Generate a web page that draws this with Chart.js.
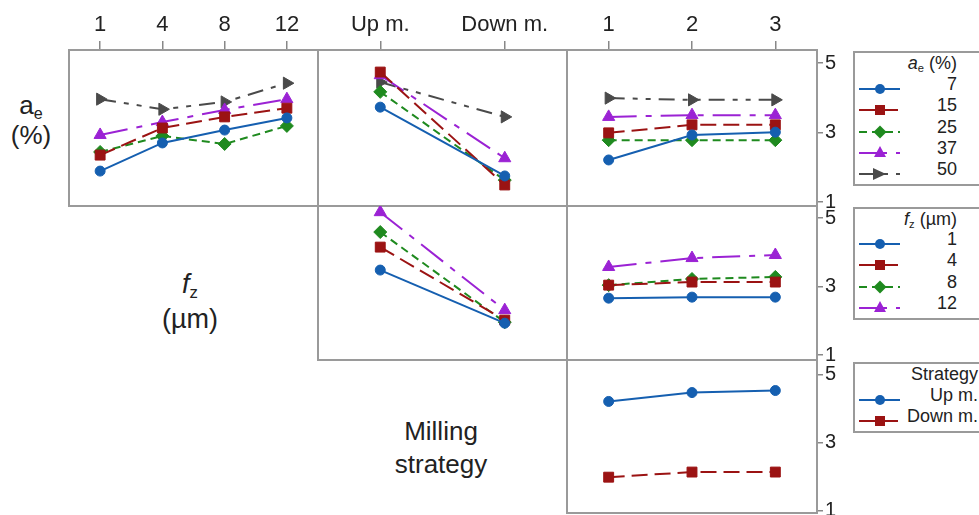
<!DOCTYPE html>
<html>
<head>
<meta charset="utf-8">
<script src="https://cdn.jsdelivr.net/npm/chart.js@4.4.1/dist/chart.umd.min.js"></script>
<style>
body{margin:0;width:979px;height:515px;overflow:hidden;background:#fff;position:relative;
  font-family:Arial,"Liberation Sans",sans-serif;color:#222}
canvas{position:absolute}
.lbl{position:absolute;text-align:center;font-size:26px}
.box{position:absolute;left:853px;width:150px;border:2px solid #9a9a9a;box-sizing:border-box}
.lg{position:absolute;font-size:18px;line-height:20px;text-align:right;white-space:nowrap}
sub{font-size:0.62em;vertical-align:-0.3em;line-height:0}
svg{position:absolute}
</style>
</head>
<body>
<div class="lbl" style="left:0;width:62px;top:90px;line-height:30px">a<sub>e</sub><br>(%)</div>
<div class="lbl" style="left:140px;width:100px;top:267px;line-height:35px;font-size:27px"><i>f</i><sub>z</sub><br>(µm)</div>
<div class="lbl" style="left:370px;width:142px;top:415px;line-height:33px">Milling<br>strategy</div>

<div class="box" style="top:51px;height:135px"></div>
<div class="box" style="top:207px;height:113px"></div>
<div class="box" style="top:362px;height:71px"></div>
<div id="legends"></div>

<script>
// factor levels (axis ticks + legend labels)
const fzLevels = ['1', '4', '8', '12'];
const strategyLevels = ['Up m.', 'Down m.'];
const runLevels = ['1', '2', '3'];
const aeLevels = ['7', '15', '25', '37', '50'];
const yTicks = [1, 3, 5];

// row 1: one series per ae level
const aeVsFz = [
  [1.89, 2.70, 3.07, 3.42],
  [2.35, 3.13, 3.45, 3.70],
  [2.44, 2.90, 2.67, 3.19],
  [2.93, 3.30, 3.65, 3.96],
  [3.96, 3.67, 3.88, 4.42]
];
const aeVsStrategy = [
  [3.73, 1.75],
  [4.74, 1.49],
  [4.17, 1.63],
  [4.65, 2.26],
  [4.45, 3.45]
];
const aeVsRun = [
  [2.21, 2.93, 3.01],
  [2.99, 3.22, 3.22],
  [2.78, 2.78, 2.78],
  [3.45, 3.50, 3.50],
  [3.99, 3.94, 3.94]
];
// row 2: one series per fz level
const fzVsStrategy = [
  [3.48, 1.93],
  [4.15, 2.02],
  [4.59, 1.96],
  [5.17, 2.31]
];
const fzVsRun = [
  [2.66, 2.69, 2.69],
  [3.04, 3.13, 3.13],
  [3.04, 3.22, 3.28],
  [3.57, 3.83, 3.92]
];
// row 3: one series per strategy
const strategyVsRun = [
  [4.21, 4.47, 4.53],
  [1.99, 2.14, 2.14]
];

const styles = [
  {color:'#155fb0', dash:[], point:'circle', r:5},
  {color:'#9b1313', dash:[16,7], point:'rect', r:7},
  {color:'#1f8a1f', dash:[8,5], point:'rectRot', r:6.5},
  {color:'#9b22d4', dash:[28,9,6,9], point:'triangle', r:7},
  {color:'#4a4a4a', dash:[16,8,5,8,5,8], point:'triangle', r:7, rot:90}
];

// panel chart areas (px) and y range per row
const colL = [69, 318, 567], colR = [318, 567, 817];
const rowT = [50, 206, 360], rowB = [206, 360, 513];
const rowMin = [0.885, 0.855, 0.94], rowMax = [5.375, 5.35, 5.425];

const boxPlugin = {
  id:'box',
  beforeDatasetsDraw(c){
    const a = c.chartArea, x = c.ctx;
    x.save();
    x.strokeStyle = '#9a9a9a'; x.lineWidth = 2;
    x.strokeRect(a.left, a.top, a.right - a.left, a.bottom - a.top);
    x.restore();
  }
};

function panel(row, col, labels, series){
  const hasTop = row === 0, hasRight = col === 2;
  const L = colL[col], R = colR[col], T = rowT[row], B = rowB[row];
  const left = L - 2, top = hasTop ? 0 : T - 2;
  const w = R + (hasRight ? 40 : 2) - left, h = B + 2 - top;
  const cv = document.createElement('canvas');
  cv.width = w; cv.height = h;
  cv.style.left = left + 'px'; cv.style.top = top + 'px';
  document.body.appendChild(cv);
  new Chart(cv.getContext('2d'), {
    type:'line',
    data:{
      labels,
      datasets: series.map((d, i) => {
        const st = styles[i];
        return {
          data:d, borderColor:st.color, backgroundColor:st.color,
          borderWidth:2, borderDash:st.dash, tension:0,
          pointStyle:st.point, pointRadius:st.r, pointRotation:st.rot || 0,
          pointBorderColor:st.color, pointBorderWidth:1
        };
      })
    },
    options:{
      responsive:false, animation:false,
      layout:{autoPadding:false, padding:{left:2, bottom:2, top:hasTop ? 0 : 2, right:hasRight ? 0 : 2}},
      plugins:{legend:{display:false}, tooltip:{enabled:false}},
      scales:{
        x:{
          type:'category', offset:true, position:'top', display:hasTop,
          grid:{drawOnChartArea:false, tickLength:9, color:'#888', lineWidth:1.5},
          border:{display:false},
          ticks:{font:{size:22}, color:'#222', padding:3, maxRotation:0, autoSkip:false},
          afterFit: s => { if(hasTop){ s.height = T; } s.paddingLeft = 0; s.paddingRight = 0; }
        },
        y:{
          min:rowMin[row], max:rowMax[row], position:'right', display:hasRight,
          afterBuildTicks: s => { s.ticks = yTicks.map(v => ({value:v})); },
          grid:{drawOnChartArea:false, tickLength:6, color:'#888', lineWidth:1.5},
          border:{display:false},
          ticks:{font:{size:20}, color:'#222', padding:2},
          afterFit: s => { if(hasRight){ s.width = 40; } s.paddingTop = 0; s.paddingBottom = 0; }
        }
      }
    },
    plugins:[boxPlugin]
  });
}

panel(0, 0, fzLevels, aeVsFz);
panel(0, 1, strategyLevels, aeVsStrategy);
panel(0, 2, runLevels, aeVsRun);
panel(1, 1, strategyLevels, fzVsStrategy);
panel(1, 2, runLevels, fzVsRun);
panel(2, 2, runLevels, strategyVsRun);

// legends
function marker(st){
  const c = st.color;
  if(st.point === 'circle') return `<circle cx="21" cy="10" r="5" fill="${c}"/>`;
  if(st.point === 'rect') return `<rect x="16" y="5" width="10" height="10" fill="${c}"/>`;
  if(st.point === 'rectRot') return `<polygon points="21,3.5 27.5,10 21,16.5 14.5,10" fill="${c}"/>`;
  if(st.rot) return `<polygon points="14,4 27,10 14,16" fill="${c}"/>`;
  return `<polygon points="21,3 27,14 15,14" fill="${c}"/>`;
}
function legend(title, titleY, names, ys, right){
  let html = `<div class="lg" style="right:${979 - right}px;top:${titleY - 10}px">${title}</div>`;
  names.forEach((n, i) => {
    const st = styles[i];
    html += `<svg width="44" height="20" style="left:859px;top:${ys[i] - 8}px">` +
      `<line x1="0" y1="10" x2="41" y2="10" stroke="${st.color}" stroke-width="2" stroke-dasharray="${st.dash.join(' ') || 'none'}"/>` +
      marker(st) + `</svg>`;
    html += `<div class="lg" style="right:${979 - right}px;top:${ys[i] - 13}px">${n}</div>`;
  });
  document.getElementById('legends').insertAdjacentHTML('beforeend', html);
}
legend('<i>a</i><sub>e</sub> (%)', 63, aeLevels, [87, 108, 130, 151, 172], 957);
legend('<i>f</i><sub>z</sub> (µm)', 219, fzLevels, [242, 263, 285, 306], 957);
legend('Strategy', 374, strategyLevels, [398, 419], 978);
</script>
</body>
</html>
